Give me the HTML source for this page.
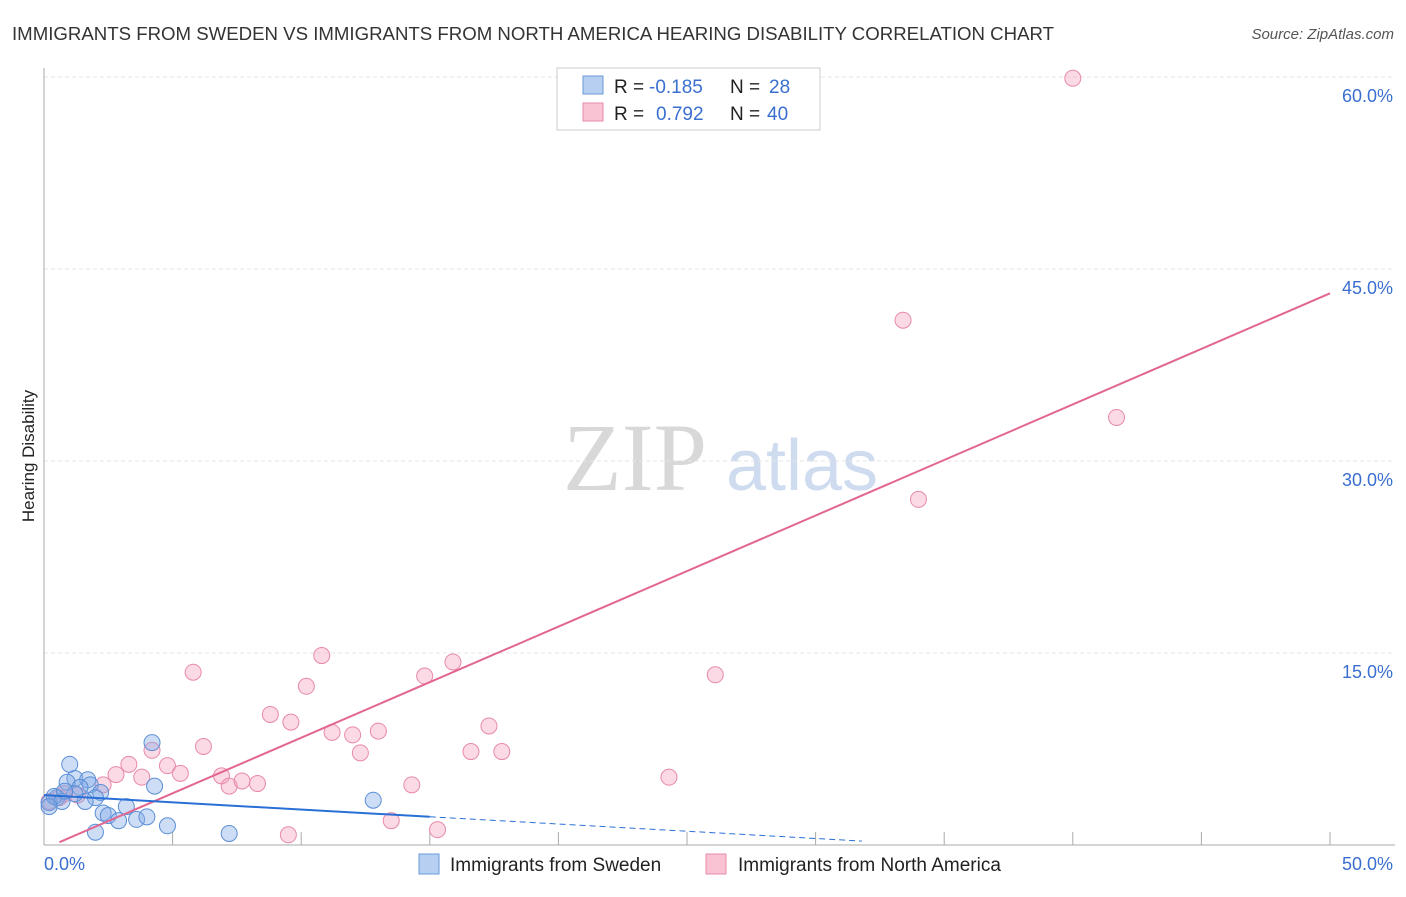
<!DOCTYPE html>
<html><head><meta charset="utf-8"><style>
body{margin:0;background:#fff;font-family:"Liberation Sans",sans-serif;}
</style></head><body>
<svg width="1406" height="892" xmlns="http://www.w3.org/2000/svg" font-family="Liberation Sans, sans-serif">
<text x="12" y="40" font-size="18" fill="#333" textLength="1042" lengthAdjust="spacingAndGlyphs">IMMIGRANTS FROM SWEDEN VS IMMIGRANTS FROM NORTH AMERICA HEARING DISABILITY CORRELATION CHART</text>
<text x="1394" y="39" font-size="15" fill="#555" text-anchor="end" font-style="italic">Source: ZipAtlas.com</text>
<text x="34" y="456" font-size="17" fill="#222" text-anchor="middle" transform="rotate(-90 34 456)">Hearing Disability</text>
<g><text x="635" y="490" font-size="96" fill="#d8d8d8" text-anchor="middle" style="font-family:'Liberation Serif',serif">ZIP</text><text x="802" y="490" font-size="72" fill="#cfdcef" text-anchor="middle">atlas</text></g>
<g id="grid"></g>
<g id="axes"></g>
<g id="marks"></g>
<g>
<rect x="557" y="68" width="263" height="62" fill="#fff" stroke="#ccc"/>
<rect x="583" y="76" width="20" height="18" fill="#b7d0f2" stroke="#6a9ad8"/>
<rect x="583" y="103" width="20" height="18" fill="#f9c3d3" stroke="#e88aa8"/>
<text x="614" y="93" font-size="19" fill="#222">R =</text>
<text x="649" y="93" font-size="19" fill="#3a6fd0">-0.185</text>
<text x="730" y="93" font-size="19" fill="#222">N =</text>
<text x="769" y="93" font-size="19" fill="#3a6fd0">28</text>
<text x="614" y="120" font-size="19" fill="#222">R =</text>
<text x="656" y="120" font-size="19" fill="#3a6fd0">0.792</text>
<text x="730" y="120" font-size="19" fill="#222">N =</text>
<text x="767" y="120" font-size="19" fill="#3a6fd0">40</text>
</g>
<g>
<rect x="419" y="854" width="20" height="20" fill="#b7d0f2" stroke="#6a9ad8"/>
<text x="450" y="871" font-size="19" fill="#222">Immigrants from Sweden</text>
<rect x="706" y="854" width="20" height="20" fill="#f9c3d3" stroke="#e88aa8"/>
<text x="738" y="871" font-size="19" fill="#222">Immigrants from North America</text>
</g>
</svg>
<script>
const yTicks=[15,30,45,60];
const xTickLabels=["0.0%","50.0%"];
const swedenX=[4.2,1.0,4.3,1.2,0.9,1.7,1.8,1.4,2.2,2.0,1.6,0.5,0.2,0.4,0.7,3.2,2.3,2.5,2.9,3.6,4.0,4.8,2.0,7.2,12.8,0.2,1.2,0.8];
const swedenY=[8.0,6.3,4.6,5.2,4.9,5.1,4.7,4.5,4.1,3.7,3.4,3.7,3.3,3.8,3.4,3.0,2.5,2.3,1.9,2.0,2.2,1.5,1.0,0.9,3.5,3.0,4.0,4.2];
const naX=[40.0,33.4,41.7,34.0,26.1,24.3,15.9,14.8,10.8,10.2,5.8,8.8,9.6,11.2,12.0,13.0,12.3,17.3,16.6,17.8,14.3,13.5,15.3,9.5,6.2,4.2,4.8,5.3,3.3,2.8,3.8,6.9,7.2,7.7,8.3,2.3,1.3,0.6,0.2,0.8];
const naY=[59.9,41.0,33.4,27.0,13.3,5.3,14.3,13.2,14.8,12.4,13.5,10.2,9.6,8.8,8.6,8.9,7.2,9.3,7.3,7.3,4.7,1.9,1.2,0.8,7.7,7.4,6.2,5.6,6.3,5.5,5.3,5.4,4.6,5.0,4.8,4.7,3.9,3.7,3.4,4.0];
const swedenLine=[3.9,-0.113];
const naLine=[-0.3,0.868];
const X=v=>44+v*25.72, Y=v=>845-v*12.8;
const NS="http://www.w3.org/2000/svg";
function mk(t,a,p){const e=document.createElementNS(NS,t);for(const k in a)e.setAttribute(k,a[k]);p.appendChild(e);return e;}
const grid=document.getElementById('grid'),axes=document.getElementById('axes'),marks=document.getElementById('marks');
yTicks.forEach(t=>{
 const l=mk('line',{x1:44,x2:1395,y1:Y(t),y2:Y(t),stroke:'#e6e6e6','stroke-dasharray':'4,3'},grid);
 
 
 const tx=mk('text',{x:1393,y:Y(t)+25,'font-size':18,fill:'#3a6fd0','text-anchor':'end'},axes);
 tx.textContent=t.toFixed(1)+'%';
 
 
});
const ya=mk('line',{x1:44,x2:44,y1:68,y2:845,stroke:'#aaa'},axes);


const xa=mk('line',{x1:44,x2:1395,y1:845,y2:845,stroke:'#aaa'},axes);


for(let i=1;i<=10;i++){const t=mk('line',{x1:X(i*5),x2:X(i*5),y1:832,y2:845,stroke:'#aaa'},axes);
 
 }
const xl0=mk('text',{x:44,y:870,'font-size':18,fill:'#3a6fd0'},axes);xl0.textContent=xTickLabels[0];


const xl1=mk('text',{x:1393,y:870,'font-size':18,fill:'#3a6fd0','text-anchor':'end'},axes);xl1.textContent=xTickLabels[1];


naX.forEach((v,i)=>{const c=mk('circle',{cx:X(v),cy:Y(naY[i]),r:8,fill:'rgba(244,160,190,0.4)',stroke:'#e88aa8','stroke-width':1},marks);
 
 });
swedenX.forEach((v,i)=>{const c=mk('circle',{cx:X(v),cy:Y(swedenY[i]),r:8,fill:'rgba(130,170,230,0.4)',stroke:'#5b8fd6','stroke-width':1},marks);
 
 });
const f=(l,x)=>l[0]+l[1]*x;
const pl=mk('line',{x1:X(0.6),y1:Y(f(naLine,0.6)),x2:X(50),y2:Y(f(naLine,50)),stroke:'#e2668f','stroke-width':2},marks);


const bl=mk('line',{x1:X(0),y1:Y(f(swedenLine,0)),x2:X(15),y2:Y(f(swedenLine,15)),stroke:'#2a6fd6','stroke-width':2},marks);


const bd=mk('line',{x1:X(15),y1:Y(f(swedenLine,15)),x2:X(31.8),y2:Y(f(swedenLine,31.8)),stroke:'#2a6fd6','stroke-width':1,'stroke-dasharray':'6,4'},marks);


</script>
</body></html>
